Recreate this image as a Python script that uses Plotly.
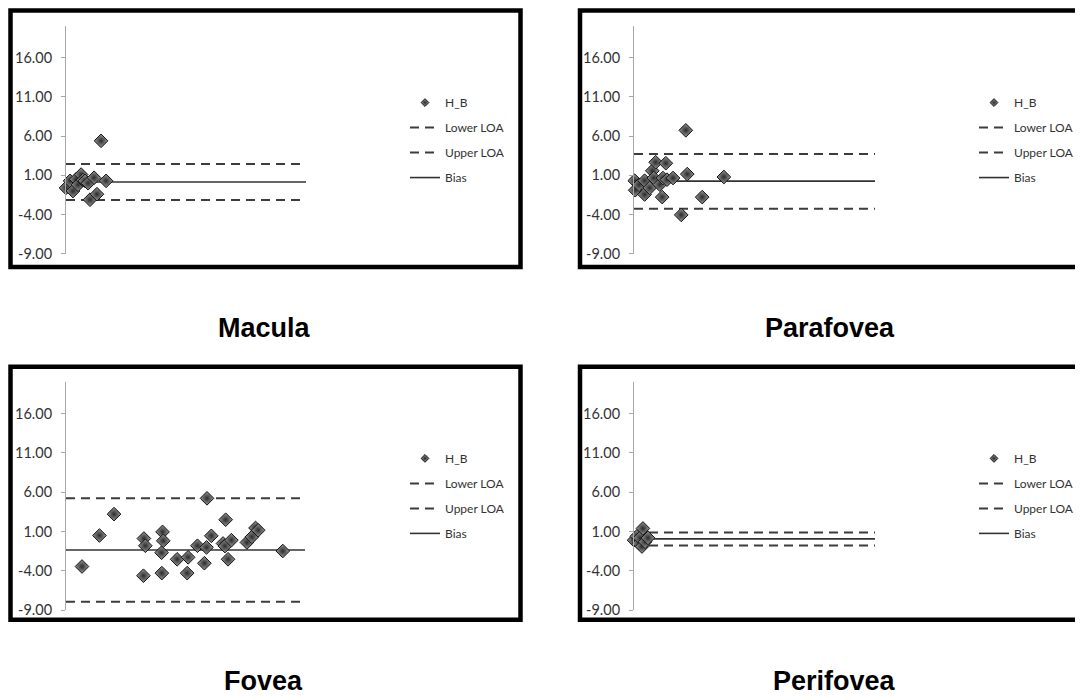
import plotly.graph_objects as go

# page body has an 8px margin, so the figure is drawn 8px in from the window edge
OFF = 8
W, H = 1083 - OFF, 700 - OFF

# ---------------- data ----------------
titles = ["Macula", "Parafovea", "Fovea", "Perifovea"]

macula_x = [0, 1.7, 2.9, 4.2, 5.0, 6.3, 7.1, 7.9, 9.2, 10.0, 11.7, 12.9, 14.6, 16.7]
macula_y = [-0.6, 0.3, -1.0, 0.5, -0.2, 1.1, 0.4, 0.3, 0.0, -2.1, 0.7, -1.4, 5.4, 0.3]
macula_bias, macula_lower, macula_upper = 0.15, -2.15, 2.46

parafovea_x = [0.3, 0.5, 2.1, 4.4, 4.4, 6.5, 7.6, 8.2, 9.0, 10.7, 11.7, 12.0, 13.2, 13.7,
               16.2, 19.6, 21.5, 22.1, 28.3, 37.3]
parafovea_y = [0.32, -0.89, -0.2, 0.32, -1.44, -0.6, 1.58, 0.66, 2.67, -0.18, -1.77, 0.66,
               2.55, 0.45, 0.66, -4.04, 6.74, 1.16, -1.77, 0.79]
parafovea_bias, parafovea_lower, parafovea_upper = 0.26, -3.24, 3.72

fovea_x = [6.7, 14.0, 20.1, 32.4, 32.6, 33.2, 40.0, 40.1, 40.4, 40.7, 46.5, 50.7, 51.1, 55.0,
           57.9, 58.8, 59.0, 60.8, 65.7, 66.5, 66.8, 67.8, 69.2, 75.7, 77.8, 79.3, 80.4, 90.7]
fovea_y = [-3.44, 0.5, 3.22, -4.61, 0.12, -0.8, -1.68, -4.28, 0.96, -0.17, -2.52, -4.28, -2.27,
           -0.8, -3.02, -1.01, 5.23, 0.46, -0.51, -0.84, 2.51, -2.52, -0.09, -0.38, 0.33, 1.46,
           1.17, -1.47]
fovea_bias, fovea_lower, fovea_upper = -1.35, -7.92, 5.23

perifovea_x = [0, 1.2, 2.1, 2.5, 3.3, 3.7, 4.6, 5.8]
perifovea_y = [-0.1, 0.4, -0.5, 0.2, -0.9, 1.4, -0.3, 0.2]
perifovea_bias, perifovea_lower, perifovea_upper = 0.07, -0.76, 0.87

tick_vals = [-9, -4, 1, 6, 11, 16]
tick_text = ["-9.00", "-4.00", "1.00", "6.00", "11.00", "16.00"]
x_range = [0, 100]
y_range = [-9, 20]

panels = [
    (macula_x, macula_y, macula_bias, macula_lower, macula_upper),
    (parafovea_x, parafovea_y, parafovea_bias, parafovea_lower, parafovea_upper),
    (fovea_x, fovea_y, fovea_bias, fovea_lower, fovea_upper),
    (perifovea_x, perifovea_y, perifovea_bias, perifovea_lower, perifovea_upper),
]

# ---------------- layout geometry (window pixels) ----------------
def px(x):
    return (x - OFF) / W

def py(y):
    return 1 - (y - OFF) / H

plot_x = [(66, 306), (634, 875), (66, 305), (634, 875)]
plot_y = [(26.5, 256.7), (26.5, 256.7), (386.5, 617.3), (386.5, 617.3)]
boxes = [(10.5, 10.5, 520.5, 270), (580, 10.5, 1110, 270),
         (10.5, 371, 520.5, 627), (580, 371, 1110, 627)]
legend_pos = [(405, 89), (974, 89), (405, 449), (974, 449)]
title_pos = [(264, 332), (830, 332), (263, 689), (834, 689)]

DASH_COLOR = "#3c3c3c"
fig = go.Figure()

for i, (xs, ys, bias, lo, up) in enumerate(panels):
    n = "" if i == 0 else str(i + 1)
    xa, ya = "x" + n, "y" + n
    lg = "legend" + n
    common = dict(xaxis=xa, yaxis=ya, legend=lg)
    fig.add_trace(go.Scatter(x=x_range, y=[lo, lo], mode="lines", name="Lower LOA",
                             line=dict(color=DASH_COLOR, width=2, dash="9px,6px"),
                             legendrank=2, legendgroup=f"lo{i}", hoverinfo="skip", **common))
    fig.add_trace(go.Scatter(x=x_range, y=[up, up], mode="lines", name="Upper LOA",
                             line=dict(color=DASH_COLOR, width=2, dash="9px,6px"),
                             legendrank=3, legendgroup=f"up{i}", hoverinfo="skip", **common))
    fig.add_trace(go.Scatter(x=x_range, y=[bias, bias], mode="lines", name="Bias",
                             line=dict(color="#333333", width=1.6),
                             legendrank=4, legendgroup=f"bias{i}", hoverinfo="skip", **common))
    fig.add_trace(go.Scatter(x=xs, y=ys, mode="markers", name="H_B", showlegend=False,
                             cliponaxis=False, legendgroup=f"hb{i}",
                             marker=dict(symbol="diamond", size=10.5, color="#9a9a9a",
                                         gradient=dict(type="radial", color="#2a2a2a"),
                                         line=dict(color="#111111", width=1)),
                             **common))
    fig.add_trace(go.Scatter(x=[None], y=[None], mode="markers", name="H_B",
                             legendrank=1, legendgroup=f"hb{i}",
                             marker=dict(symbol="diamond", size=6, color="#9a9a9a",
                                         gradient=dict(type="radial", color="#2a2a2a"),
                                         line=dict(color="#111111", width=1)),
                             **common))

layout = dict(width=W, height=H, margin=dict(l=0, r=0, t=0, b=0),
              paper_bgcolor="white", plot_bgcolor="white", showlegend=True)

shapes = []
annotations = []
for i in range(4):
    n = "" if i == 0 else str(i + 1)
    x0, x1 = plot_x[i]
    y0, y1 = plot_y[i]
    layout["xaxis" + n] = dict(domain=[px(x0), px(x1)], range=x_range, visible=False,
                               fixedrange=True, anchor="y" + n)
    layout["yaxis" + n] = dict(domain=[py(y1), py(y0)], range=y_range, anchor="x" + n,
                               tickmode="array", tickvals=tick_vals, ticktext=tick_text,
                               showgrid=False, zeroline=False, showline=True,
                               linecolor="#a8a8a8", linewidth=1, ticks="outside",
                               ticklen=4, tickcolor="#a8a8a8", ticklabelstandoff=6,
                               tickfont=dict(family="Lato", size=14.5, color="#333333"),
                               fixedrange=True)
    lx, ly = legend_pos[i]
    layout["legend" + n] = dict(x=px(lx), y=py(ly), xanchor="left", yanchor="top",
                                bgcolor="rgba(0,0,0,0)", borderwidth=0,
                                tracegroupgap=6, traceorder="grouped",
                                font=dict(family="Lato", size=12, color="#333333"))
    bx0, by0, bx1, by1 = boxes[i]
    shapes.append(dict(type="rect", xref="paper", yref="paper",
                       x0=px(bx0), x1=px(bx1), y0=py(by1), y1=py(by0),
                       line=dict(color="black", width=4.5), fillcolor="rgba(0,0,0,0)"))
    tx, ty = title_pos[i]
    annotations.append(dict(text=f"<b>{titles[i]}</b>", xref="paper", yref="paper",
                            x=px(tx), y=py(ty), xanchor="center", yanchor="middle",
                            showarrow=False,
                            font=dict(family="Liberation Sans", size=27, color="black")))

layout["shapes"] = shapes
layout["annotations"] = annotations
fig.update_layout(**layout)

fig.write_html("out.html")
